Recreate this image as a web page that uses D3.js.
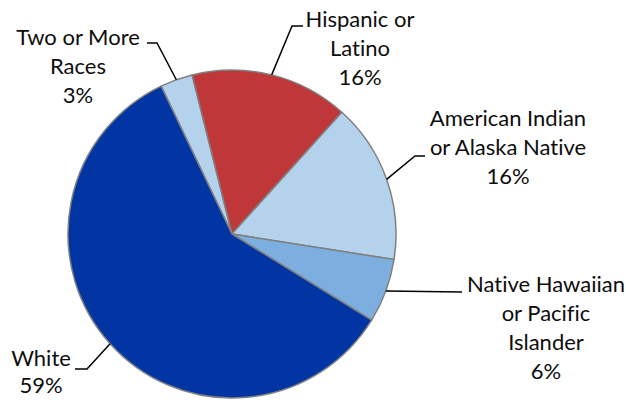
<!DOCTYPE html>
<html><head><meta charset="utf-8">
<script src="https://cdn.jsdelivr.net/npm/d3@7"></script>
<style>body{margin:0;background:#fff}svg{display:block}text{font-family:Lato,"Open Sans",sans-serif;fill:#0d0d0d;font-variant-ligatures:none}</style>
</head><body><svg id="c" width="626" height="400"></svg>
<script>
const categories = ["Two or More Races","Hispanic or Latino","American Indian or Alaska Native","Native Hawaiian or Pacific Islander","White"];
const values = [3.2, 15.6, 15.8, 6.3, 59.1];
const pctLabels = ["3%","16%","16%","6%","59%"];
const colors = ["#B4D2EC","#C0373A","#B4D2EC","#7CAFE0","#0035A3"];
// label text lines
const labelLines = [["Two or More","Races","3%"],["Hispanic or","Latino","16%"],["American Indian","or Alaska Native","16%"],["Native Hawaiian","or Pacific","Islander","6%"],["White","59%"]];
// label layout: text centre x, first baseline, line gap; leader horizontal start and elbow
const layout = [
  {x:78,y:45,lh:29,hx:147,hy:43,ex:157},
  {x:360,y:27,lh:29,hx:303,hy:26,ex:292},
  {x:508,y:126,lh:29,hx:425,hy:156,ex:415},
  {x:546,y:292,lh:29,hx:462,hy:292,ex:null},
  {x:41,y:366,lh:27,hx:75,hy:369,ex:87}
];
const cx=232, cy=234, R=164;
const svg=d3.select("#c");
const g=svg.append("g").attr("transform",`translate(${cx},${cy})`);
const start=-25.6*Math.PI/180;
const pie=d3.pie().sort(null).startAngle(start).endAngle(start+2*Math.PI);
const arcs=pie(values);
const arc=d3.arc().innerRadius(0).outerRadius(R);
g.selectAll("path").data(arcs).join("path").attr("d",arc)
 .attr("fill",(d,i)=>colors[i]).attr("stroke","#808080").attr("stroke-width",1.5).attr("stroke-linejoin","round");
arcs.forEach((a,i)=>{
  const m=(a.startAngle+a.endAngle)/2;
  const px=cx+R*Math.sin(m), py=cy-R*Math.cos(m);
  const L=layout[i];
  const pts=[[L.hx,L.hy]];
  if(L.ex!==null) pts.push([L.ex,L.hy]);
  pts.push([px,py]);
  svg.append("path").attr("d",d3.line()(pts)).attr("fill","none").attr("stroke","#000").attr("stroke-width",1.5);
  const t=svg.append("text").attr("text-anchor","middle").attr("font-size",22);
  labelLines[i].forEach((s,k)=>t.append("tspan").attr("x",L.x).attr("y",L.y+k*L.lh).text(s));
});
</script></body></html>
